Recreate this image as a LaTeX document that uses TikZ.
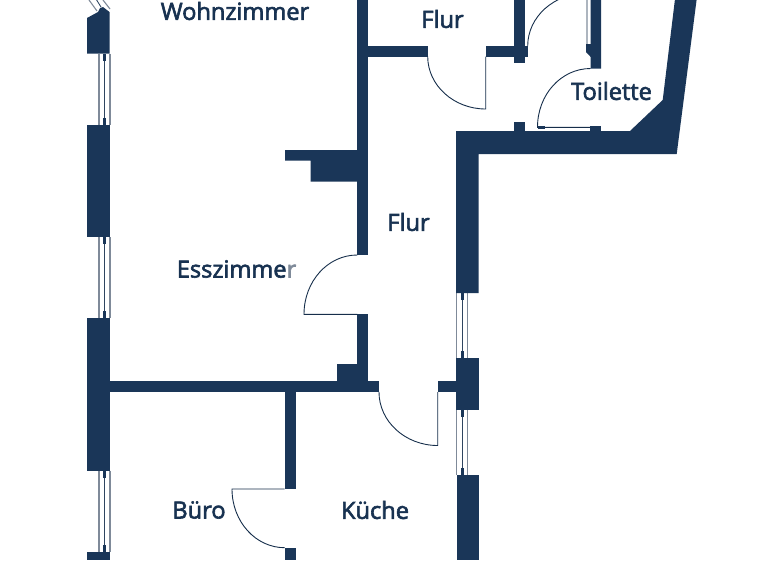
\documentclass[tikz,border=0pt]{standalone}
\usepackage{fontspec}
\setmainfont{Open Sans}[FakeBold=2.6]
\definecolor{wallc}{HTML}{1A3658}
\definecolor{frame}{HTML}{7F8A99}
\tikzset{
  wall/.style={fill=wallc,draw=none},
  doorline/.style={draw=wallc!85!black,line width=0.9pt},
  glass/.style={draw=frame,line width=1.1pt},
  mull/.style={draw=wallc!80!gray,line width=0.9pt},
  stub/.style={fill=wallc,draw=none},
  room/.style={text=wallc!92!black,font=\fontsize{23.6pt}{26pt}\selectfont,inner sep=0pt,anchor=center}
}
\newcommand{\winV}[3]{% x-left, y-top, y-bottom
  \draw[glass] (#1,#2) -- (#1,#3) (#1+11,#2) -- (#1+11,#3);
  \draw[mull] (#1+5.5,#2) -- (#1+5.5,#3);
  \fill[stub] (#1+4,#2) rectangle (#1+7,#2+7);
  \fill[stub] (#1+4,#3-7) rectangle (#1+7,#3);
}
\begin{document}
\begin{tikzpicture}[x=1pt,y=-1pt]
\useasboundingbox (0,0) rectangle (768,560);
\clip (0,0) rectangle (768,560);
% windows
\winV{99}{53.5}{125}
\winV{99}{237}{318}
\winV{99}{470.5}{552}
\winV{456.5}{293}{358}
\winV{456.5}{410}{475}
% diagonal window top left
\draw[glass] (89,0) -- (97,11) (103,0) -- (110,9);
\draw[mull] (96,-1) -- (101,7);
% left wall
\fill[wall] (87,18) -- (98,12) -- (100,8) -- (103,7) -- (109.5,12) -- (109.5,53.5) -- (87,53.5) -- cycle;
\fill[wall] (87,125) rectangle (110,237);
\fill[wall] (87,318) rectangle (110,470.5);
\fill[wall] (87,552) rectangle (110,560);
% horizontal wall
\fill[wall] (110,381) rectangle (379,392);
\fill[wall] (437.7,381) rectangle (457,392);
% long vertical wall
\fill[wall] (357.3,0) rectangle (368,255);
\fill[wall] (357.3,314.3) rectangle (368,381);
\fill[wall] (336.7,364) rectangle (358,381);
% chimney
\fill[wall] (285,150) -- (358,150) -- (358,181.5) -- (310.7,181.5) -- (310.7,160.7) -- (285,160.7) -- cycle;
% Buero/Kueche wall
\fill[wall] (284.7,392) rectangle (295.5,489);
\fill[wall] (284.7,547.7) rectangle (295.5,560);
% upper corridor wall
\fill[wall] (368,46) rectangle (427.7,56.5);
\fill[wall] (485.7,46) rectangle (514,56.5);
\fill[wall] (514,0) rectangle (525,63.3);
\fill[wall] (525,46) rectangle (527.7,56.5);
\fill[wall] (514,121.7) rectangle (525,132);
% right short wall
\fill[wall] (590.7,0) -- (601,0) -- (601,68.5) -- (590.7,68.5) -- (590.7,57) -- (586,52) -- (586,44) -- (590.7,44) -- cycle;
% big outer wall
\fill[wall] (456,131) -- (630,131) -- (662.7,100) -- (675,-1) -- (696.7,-1) -- (676.7,154) -- (478.7,154) -- (478.7,293) -- (456,293) -- cycle;
\fill[wall] (456,358) rectangle (478.7,410);
\fill[wall] (456.5,475) rectangle (478.7,560);
% doors
\draw[doorline] (357.3,314.3) -- (304,314.3) .. controls (304,281.4) and (327.7,255) .. (357.3,255);
\draw[doorline] (485.7,56.5) -- (485.7,109) .. controls (453.7,109) and (427.7,85.3) .. (427.7,56.5);
\draw[doorline] (437.7,392) -- (437.7,445.5) .. controls (405.3,445.5) and (379,421.5) .. (379,392);
\draw[doorline] (284.7,489) -- (232,489) .. controls (232,521.6) and (255.7,547.7) .. (284.7,547.7);
\draw[doorline] (590.7,127.3) -- (537.5,127.3) .. controls (537.5,94.7) and (561,68.5) .. (590.7,68.5);
\draw[doorline] (587,46) -- (587,-7) .. controls (554.3,-7) and (527.7,16.7) .. (527.7,46);
\fill[stub] (538,125.7) rectangle (545,128.7);
\fill[stub] (590,125.5) rectangle (601,131.5);
% labels
\node[room] (wohn) at (235,11) {Wohnzimmer};
\node[room] (flur1) at (442.5,19) {Flur};
\node[room] (toil) at (611.5,91) {Toilette};
\node[room] (flur2) at (408.5,222) {Flur};
\node[room] (ess) at (236.5,269) {Esszimme\textcolor{frame}{r}};
\node[room] (bur) at (199,510) {Büro};
\node[room] (kue) at (375,510) {Küche};
\end{tikzpicture}
\end{document}
